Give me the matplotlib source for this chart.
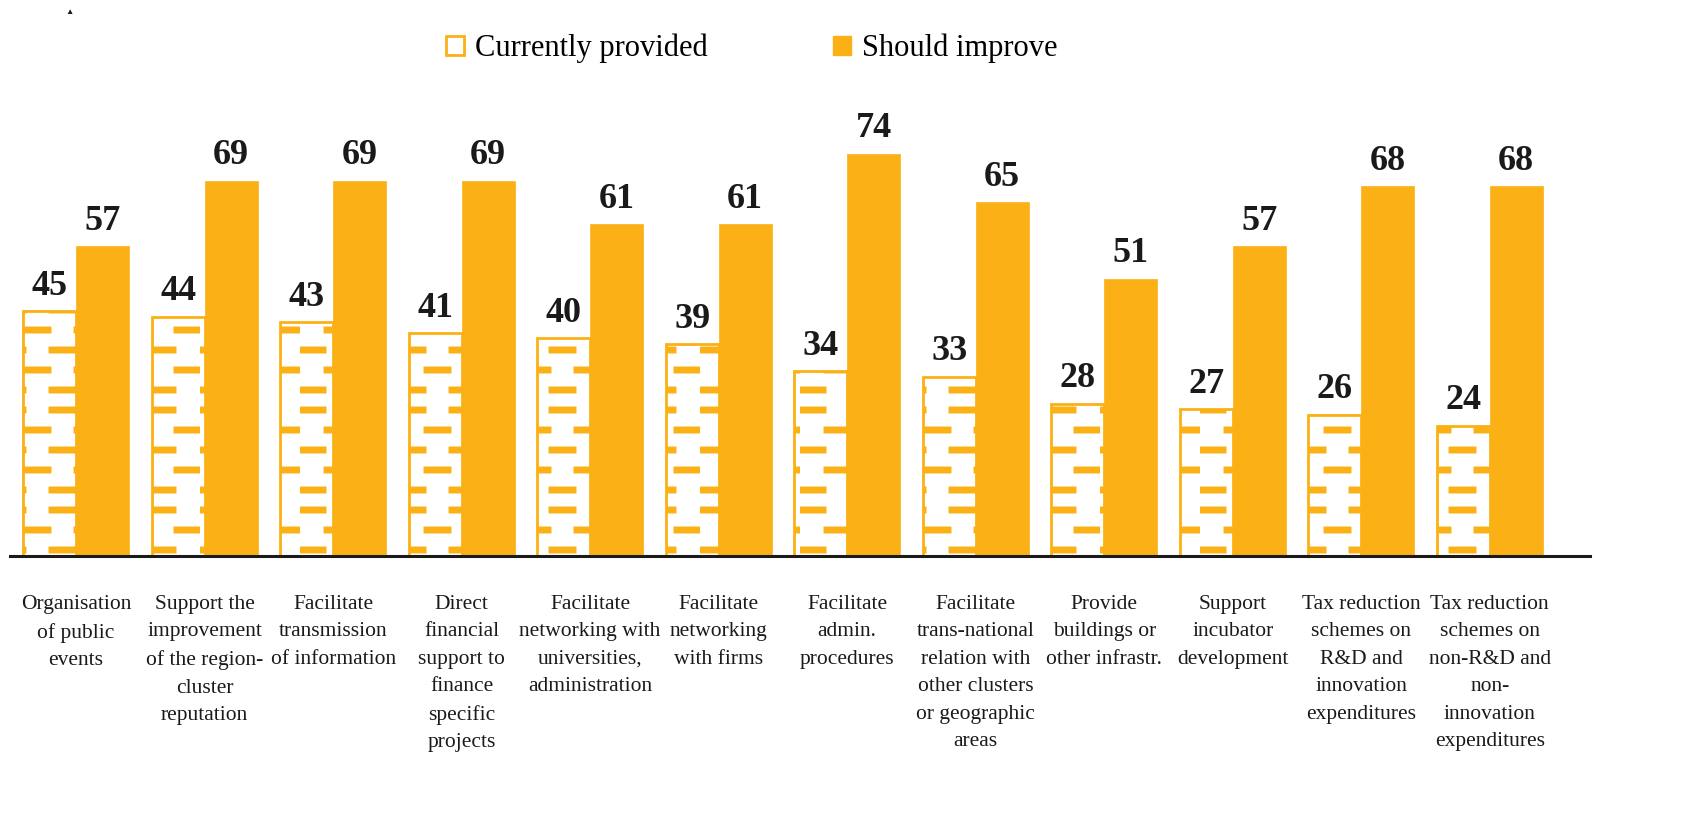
import numpy as np
import matplotlib
matplotlib.use("Agg")
from matplotlib import pyplot as plt
from matplotlib import hatch as mhatch
from matplotlib.path import Path
from matplotlib.patches import Patch

categories = [
    "Organisation\nof public\nevents",
    "Support the\nimprovement\nof the region-\ncluster\nreputation",
    "Facilitate\ntransmission\nof information",
    "Direct\nfinancial\nsupport to\nfinance\nspecific\nprojects",
    "Facilitate\nnetworking with\nuniversities,\nadministration",
    "Facilitate\nnetworking\nwith firms",
    "Facilitate\nadmin.\nprocedures",
    "Facilitate\ntrans-national\nrelation with\nother clusters\nor geographic\nareas",
    "Provide\nbuildings or\nother infrastr.",
    "Support\nincubator\ndevelopment",
    "Tax reduction\nschemes on\nR&D and\ninnovation\nexpenditures",
    "Tax reduction\nschemes on\nnon-R&D and\nnon-\ninnovation\nexpenditures",
]
currently_provided = [45, 44, 43, 41, 40, 39, 34, 33, 28, 27, 26, 24]
should_improve = [57, 69, 69, 69, 61, 61, 74, 65, 51, 57, 68, 68]

orange = "#FBB116"
dark = "#1a1a1a"


# staggered dash ("brick") pattern for the hollow bars
class BrickHatch(mhatch.HatchPatternBase):
    def __init__(self, hatch, density):
        self.rows = 5 if "-" in hatch else 0
        self.num_vertices = self.rows * 4

    def set_vertices_and_codes(self, vertices, codes):
        k = 0
        for r in range(self.rows):
            y = (r + 0.5) / self.rows
            shift = 0.25 if r % 2 else 0.0
            for x0 in (0.02, 0.52):
                vertices[k] = (x0 + shift, y)
                vertices[k + 1] = (x0 + shift + 0.21, y)
                codes[k] = Path.MOVETO
                codes[k + 1] = Path.LINETO
                k += 2


mhatch._hatch_types = [BrickHatch]
plt.rcParams["hatch.linewidth"] = 5
plt.rcParams["font.family"] = ["Liberation Serif", "DejaVu Serif"]

fig = plt.figure(figsize=(16.98, 8.19), dpi=100)
ax = fig.add_axes([0.0059, 0.321, 0.9305, 0.558])

x = np.arange(len(categories))
w = 0.412
b1 = ax.bar(x - w / 2, currently_provided, w, facecolor="white",
            edgecolor=orange, linewidth=2, hatch="-")
b2 = ax.bar(x + w / 2, should_improve, w, color=orange, edgecolor=orange, linewidth=0.5)

for bars in (b1, b2):
    for rect in bars:
        h = rect.get_height()
        ax.annotate(f"{h:.0f}", (rect.get_x() + rect.get_width() / 2, h),
                    xytext=(0, 6), textcoords="offset points",
                    ha="center", va="bottom", fontsize=26, fontweight="bold",
                    color=dark)

ax.set_xlim(-0.514, 11.78)
ax.set_ylim(0, 84)
ax.set_xticks(x)
ax.set_xticklabels(categories, fontsize=15.5, color=dark, linespacing=1.6)
ax.tick_params(axis="x", length=0, pad=28)
ax.set_yticks([])
for s in ("left", "right", "top"):
    ax.spines[s].set_visible(False)
ax.spines["bottom"].set_linewidth(2.2)
ax.spines["bottom"].set_color(dark)

handles = [Patch(facecolor="white", edgecolor=orange, linewidth=2),
           Patch(facecolor=orange, edgecolor=orange)]
fig.legend(handles, ["Currently provided", "Should improve"], ncol=2,
           loc="center", bbox_to_anchor=(0.4425, 0.941), frameon=False,
           fontsize=22, handlelength=0.6, handleheight=0.6,
           handletextpad=0.35, columnspacing=4.1)

fig.text(0.041, 0.985, "\u25b2", fontsize=6, color=dark, ha="center", va="center")

fig.savefig("out.png", dpi=100)
